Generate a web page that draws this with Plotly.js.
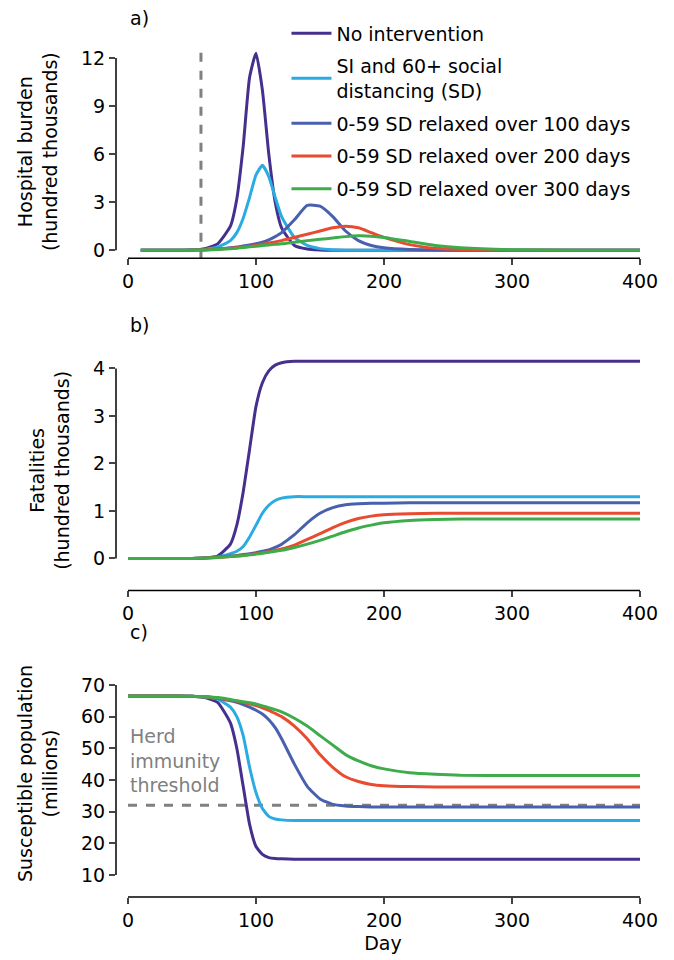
<!DOCTYPE html>
<html>
<head>
<script src="https://cdn.plot.ly/plotly-3.0.1.min.js"></script>
</head>
<body style="margin:0">
<div id="plot" style="width:674px;height:960px"></div>
<script>
var days = [0,20,40,50,60,70,80,85,90,95,100,105,110,115,120,130,140,150,160,170,180,190,200,220,240,260,300,350,400];
var daysHosp = [10,20,40,50,60,70,80,85,90,95,100,105,110,115,120,130,140,150,160,170,180,190,200,220,240,260,300,350,400];

var names = ['No intervention', 'SI and 60+ social<br>distancing (SD)', '0-59 SD relaxed over 100 days',
             '0-59 SD relaxed over 200 days', '0-59 SD relaxed over 300 days'];
var colors = ['#45308d', '#2aabe2', '#4860ad', '#e94b30', '#3eac4a'];

var hospNone = [0,0,0,0.02,0.1,0.4,1.5,3.2,6.5,10.8,12.3,10,6,3,1.4,0.3,0.08,0.02,0,0,0,0,0,0,0,0,0,0,0];
var hospSD   = [0,0,0,0.02,0.05,0.2,0.6,1.1,2,3.3,4.7,5.3,4.6,3.3,2.1,0.8,0.3,0.1,0.03,0,0,0,0,0,0,0,0,0,0];
var hosp100  = [0,0,0,0.01,0.03,0.08,0.15,0.2,0.27,0.33,0.4,0.5,0.65,0.85,1.1,1.9,2.8,2.75,2.1,1.2,0.6,0.3,0.15,0.04,0.01,0,0,0,0];
var hosp200  = [0,0,0,0.01,0.02,0.06,0.12,0.16,0.2,0.25,0.3,0.37,0.45,0.52,0.6,0.8,1.0,1.2,1.4,1.5,1.4,1.1,0.8,0.35,0.12,0.04,0,0,0];
var hosp300  = [0,0,0,0.01,0.02,0.05,0.1,0.13,0.17,0.21,0.25,0.29,0.33,0.37,0.4,0.5,0.6,0.68,0.76,0.85,0.9,0.88,0.8,0.55,0.3,0.15,0.03,0,0];

var fatNone = [0,0,0,0,0.01,0.05,0.3,0.7,1.4,2.3,3.2,3.7,3.95,4.07,4.12,4.15,4.15,4.15,4.15,4.15,4.15,4.15,4.15,4.15,4.15,4.15,4.15,4.15,4.15];
var fatSD   = [0,0,0,0,0.01,0.03,0.1,0.15,0.25,0.45,0.7,0.95,1.12,1.22,1.27,1.3,1.3,1.3,1.3,1.3,1.3,1.3,1.3,1.3,1.3,1.3,1.3,1.3,1.3];
var fat100  = [0,0,0,0,0.01,0.03,0.05,0.06,0.08,0.1,0.12,0.15,0.18,0.23,0.3,0.5,0.75,0.95,1.07,1.13,1.15,1.16,1.16,1.17,1.17,1.17,1.17,1.17,1.17];
var fat200  = [0,0,0,0,0.01,0.02,0.04,0.05,0.06,0.08,0.1,0.12,0.14,0.17,0.2,0.28,0.4,0.52,0.65,0.76,0.84,0.89,0.92,0.94,0.95,0.95,0.95,0.95,0.95];
var fat300  = [0,0,0,0,0.01,0.02,0.04,0.05,0.06,0.075,0.09,0.11,0.13,0.15,0.17,0.23,0.3,0.38,0.47,0.56,0.64,0.7,0.75,0.8,0.82,0.83,0.83,0.83,0.83];

var susNone = [66.5,66.5,66.5,66.4,66,64.5,58,50,38,26,19,16.5,15.5,15.2,15.1,15,15,15,15,15,15,15,15,15,15,15,15,15,15];
var susSD   = [66.5,66.5,66.5,66.4,66.2,65.5,63,60,54,44,36,31,28.5,27.7,27.4,27.2,27.2,27.2,27.2,27.2,27.2,27.2,27.2,27.2,27.2,27.2,27.2,27.2,27.2];
var sus100  = [66.5,66.5,66.5,66.4,66.3,65.8,65,64.5,63.8,63,62,60.8,59,56.5,53,45,38,34,32.3,31.8,31.6,31.5,31.5,31.5,31.5,31.5,31.5,31.5,31.5];
var sus200  = [66.5,66.5,66.5,66.4,66.3,65.9,65.2,64.9,64.5,64,63.5,62.8,62,61,60,57,53,48,44,41,39.5,38.6,38.2,37.9,37.8,37.8,37.8,37.8,37.8];
var sus300  = [66.5,66.5,66.5,66.4,66.3,66,65.4,65,64.7,64.4,64,63.4,62.8,62.2,61.5,59.5,57,54,51,48,46,44.5,43.5,42.3,41.8,41.5,41.4,41.4,41.4];

var interventionDay = 57;
var herdThreshold = 32;

var hosp = [hospNone, hospSD, hosp100, hosp200, hosp300];
var fat = [fatNone, fatSD, fat100, fat200, fat300];
var sus = [susNone, susSD, sus100, sus200, sus300];

var data = [];
var gray = '#808080';
// reference lines first so curves sit on top
data.push({x: [interventionDay, interventionDay], y: [-0.6, 13.1], mode: 'lines', xaxis: 'x', yaxis: 'y',
  line: {color: gray, width: 3, dash: 'dash'}, showlegend: false, hoverinfo: 'skip'});
data.push({x: [0, 400], y: [herdThreshold, herdThreshold], mode: 'lines', xaxis: 'x3', yaxis: 'y3',
  line: {color: gray, width: 3, dash: 'dash'}, showlegend: false, hoverinfo: 'skip'});

for (let i = 0; i < 5; i++) {
  data.push({x: daysHosp, y: hosp[i], name: names[i], legendgroup: 'g' + i, mode: 'lines', xaxis: 'x', yaxis: 'y',
    line: {color: colors[i], width: 3, shape: 'spline', smoothing: 0.5}});
  data.push({x: days, y: fat[i], mode: 'lines', xaxis: 'x2', yaxis: 'y2', showlegend: false,
    line: {color: colors[i], width: 3, shape: 'spline', smoothing: 0.5}});
  data.push({x: days, y: sus[i], mode: 'lines', xaxis: 'x3', yaxis: 'y3', showlegend: false,
    line: {color: colors[i], width: 3, shape: 'spline', smoothing: 0.5}});
}

var font = {family: 'DejaVu Sans', size: 19, color: '#000'};
var xr = [-9.375, 407.8];
var xdom = [116/674, 650/674];
function xax(anchor) {
  return {domain: xdom, range: xr, anchor: anchor, tickvals: [0,100,200,300,400], ticks: 'outside',
    ticklen: 6, tickwidth: 1.5, showgrid: false, zeroline: false, showline: false, tickfont: font};
}
function yax(anchor, dom, rng, tv, title) {
  return {domain: dom, range: rng, anchor: anchor, tickvals: tv, ticks: 'outside', ticklen: 6, tickwidth: 1.5,
    showgrid: false, zeroline: false, showline: false, tickfont: font,
    title: {text: title, font: font, standoff: 18}};
}
var x3 = xax('y3');
x3.title = {text: 'Day', font: font, standoff: 6};

function spines(yv, ya, xa) {
  return [
    {type: 'line', xref: 'paper', yref: ya, x0: xdom[0], x1: xdom[0], y0: yv[0], y1: yv[1], line: {color: '#000', width: 1.5}},
    {type: 'line', xref: xa, yref: ya + ' domain', x0: 0, x1: 400, y0: 0, y1: 0, line: {color: '#000', width: 1.5}}
  ];
}

var layout = {
  width: 674, height: 960,
  margin: {l: 0, r: 0, t: 0, b: 0},
  plot_bgcolor: '#fff', paper_bgcolor: '#fff',
  font: font,
  xaxis: xax('y'), xaxis2: xax('y2'), xaxis3: x3,
  yaxis: yax('x', [0.731, 0.953], [-0.5, 12.81], [0,3,6,9,12], 'Hospital burden<br>(hundred thousands)'),
  yaxis2: yax('x2', [0.385, 0.635], [-0.674, 4.38], [0,1,2,3,4], 'Fatalities<br>(hundred thousands)'),
  yaxis3: yax('x3', [0.0656, 0.323], [3.05, 81.05], [10,20,30,40,50,60,70], 'Susceptible population<br>(millions)'),
  shapes: [].concat(spines([0,12], 'y', 'x'), spines([0,4], 'y2', 'x2'), spines([10,70], 'y3', 'x3')),
  legend: {x: 0.425, y: 0.985, xanchor: 'left', yanchor: 'top', font: font, bgcolor: 'rgba(0,0,0,0)',
    tracegroupgap: 5, itemwidth: 40},
  annotations: [
    {text: 'a)', xref: 'paper', yref: 'paper', x: 128/674, y: 1 - 18/960, showarrow: false, xanchor: 'left', yanchor: 'middle', font: font},
    {text: 'b)', xref: 'paper', yref: 'paper', x: 128/674, y: 1 - 325/960, showarrow: false, xanchor: 'left', yanchor: 'middle', font: font},
    {text: 'c)', xref: 'paper', yref: 'paper', x: 128/674, y: 1 - 632/960, showarrow: false, xanchor: 'left', yanchor: 'middle', font: font},
    {text: 'Herd<br>immunity<br>threshold', xref: 'x3', yref: 'y3', x: 0, y: 46, showarrow: false, xanchor: 'left',
      yanchor: 'middle', align: 'left', font: {family: 'DejaVu Sans', size: 19, color: gray}}
  ]
};

Plotly.newPlot('plot', data, layout, {displayModeBar: false});
</script>
</body>
</html>
